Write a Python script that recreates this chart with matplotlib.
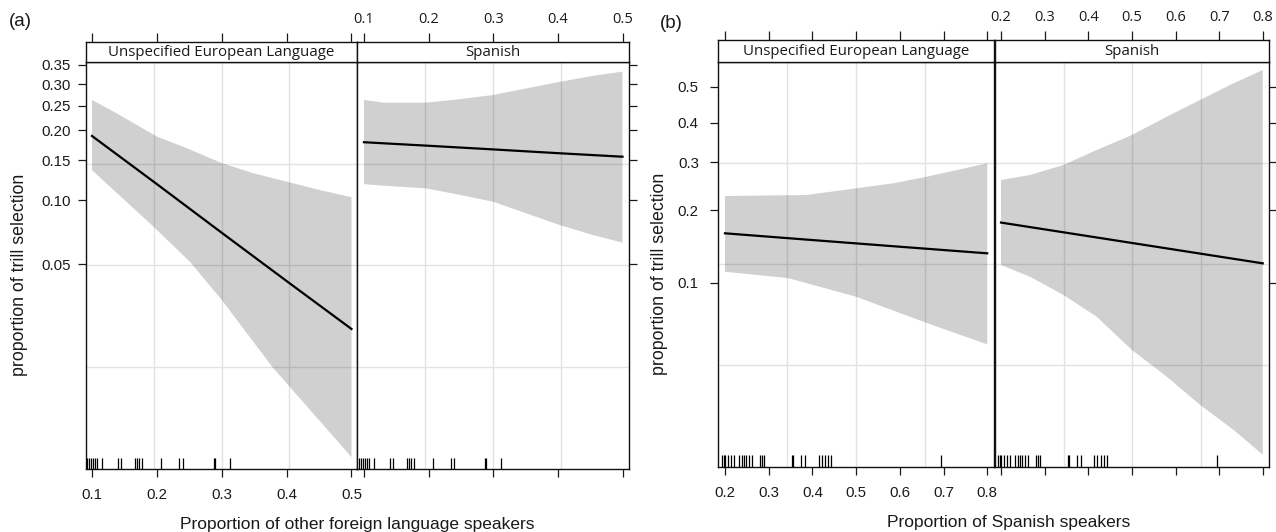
import numpy as np
import matplotlib
matplotlib.use("Agg")
import matplotlib.pyplot as plt
from matplotlib.ticker import FixedLocator, FixedFormatter, NullLocator

plt.rcParams["font.family"] = ["Liberation Sans", "DejaVu Sans"]

# ---------------- data ----------------
panel_names = ["Unspecified European Language", "Spanish"]

# (a) Proportion of other foreign language speakers
a_line_x = [0.1, 0.2, 0.3, 0.4, 0.5]
a_eu_fit = [0.190, 0.118, 0.0705, 0.0414, 0.0241]
a_es_fit = [0.179, 0.173, 0.167, 0.161, 0.1555]

a_eu_up_x = [0.1, 0.138, 0.174, 0.2, 0.246, 0.3, 0.348, 0.405, 0.451, 0.5]
a_eu_up = [0.263, 0.234, 0.207, 0.189, 0.169, 0.146, 0.132, 0.120, 0.111, 0.103]
a_eu_lo_x = [0.1, 0.195, 0.251, 0.3, 0.378, 0.5]
a_eu_lo = [0.136, 0.0752, 0.0513, 0.0335, 0.0156, 0.00551]

a_es_band_x = [0.1, 0.130, 0.195, 0.238, 0.3, 0.351, 0.403, 0.454, 0.5]
a_es_up = [0.263, 0.257, 0.257, 0.263, 0.2745, 0.290, 0.306, 0.321, 0.332]
a_es_lo = [0.118, 0.116, 0.113, 0.107, 0.0982, 0.0869, 0.0766, 0.0688, 0.0633]

a_rug = [0.092, 0.095, 0.099, 0.102, 0.104, 0.107, 0.115, 0.140, 0.145,
         0.167, 0.170, 0.173, 0.177, 0.207, 0.234, 0.240, 0.288, 0.289, 0.312]

a_xticks = [0.1, 0.2, 0.3, 0.4, 0.5]
a_xticklabels = ["0.1", "0.2", "0.3", "0.4", "0.5"]
a_yticks = [0.05, 0.10, 0.15, 0.20, 0.25, 0.30, 0.35]
a_yticklabels = ["0.05", "0.10", "0.15", "0.20", "0.25", "0.30", "0.35"]

# (b) Proportion of Spanish speakers
b_line_x = [0.2, 0.4, 0.6, 0.8]
b_eu_fit = [0.162, 0.152, 0.1426, 0.1338]
b_es_fit = [0.179, 0.1577, 0.1385, 0.1213]

b_eu_up_x = [0.2, 0.387, 0.5, 0.585, 0.661, 0.730, 0.8]
b_eu_up = [0.227, 0.229, 0.2425, 0.253, 0.267, 0.282, 0.2976]
b_eu_lo_x = [0.2, 0.344, 0.5, 0.654, 0.8]
b_eu_lo = [0.1116, 0.1048, 0.0867, 0.0669, 0.0527]

b_es_band_x = [0.2, 0.2665, 0.343, 0.419, 0.5, 0.580, 0.656, 0.733, 0.8]
b_es_up = [0.260, 0.271, 0.2936, 0.3296, 0.3678, 0.4167, 0.4628, 0.5095, 0.5467]
b_es_lo = [0.1193, 0.1062, 0.0883, 0.0706, 0.0497, 0.0373, 0.0275, 0.0209, 0.0159]

b_rug = [0.194, 0.197, 0.200, 0.207, 0.214, 0.221, 0.233, 0.238, 0.243, 0.249,
         0.255, 0.262, 0.280, 0.284, 0.289, 0.353, 0.355, 0.375, 0.383, 0.414,
         0.421, 0.429, 0.436, 0.442, 0.695]

b_xticks = [0.2, 0.3, 0.4, 0.5, 0.6, 0.7, 0.8]
b_xticklabels = ["0.2", "0.3", "0.4", "0.5", "0.6", "0.7", "0.8"]
b_yticks = [0.1, 0.2, 0.3, 0.4, 0.5]
b_yticklabels = ["0.1", "0.2", "0.3", "0.4", "0.5"]

# ---------------- figure ----------------
W, H = 1276, 532
fig = plt.figure(figsize=(W / 100, H / 100), dpi=100)
TXT = "#1a1a1a"
SANS = "Liberation Sans"
STRIP = "Open Sans"


def add_ax(x0, x1, y0, y1):
    return fig.add_axes([x0 / W, 1 - y1 / H, (x1 - x0) / W, (y1 - y0) / H])


def draw_panel(ax, xlim, ylim, xticks, xtl, yticks, ytl, fx, fit, ux, up, lx, lo,
               rug, left):
    ax.set_yscale("logit")
    ax.set_xlim(*xlim)
    ax.set_ylim(*ylim)
    for f in (0.25, 0.5, 0.75):
        ax.plot([f, f], [0, 1], transform=ax.transAxes, color="#e2e2e2", lw=1.0, zorder=1)
        ax.plot([0, 1], [f, f], transform=ax.transAxes, color="#e2e2e2", lw=1.0, zorder=1)
    px = np.concatenate([ux, lx[::-1]])
    py = np.concatenate([up, lo[::-1]])
    ax.fill(px, py, color="black", alpha=0.185, lw=0, zorder=2)
    ax.plot(fx, fit, color="black", lw=1.6, zorder=3)
    ax.vlines(rug, 0, 0.028, transform=ax.get_xaxis_transform(), color="black",
              lw=0.9, zorder=4)
    ax.xaxis.set_major_locator(FixedLocator(xticks))
    ax.xaxis.set_major_formatter(FixedFormatter(xtl))
    ax.xaxis.set_minor_locator(NullLocator())
    ax.yaxis.set_major_locator(FixedLocator(yticks))
    ax.yaxis.set_major_formatter(FixedFormatter(ytl))
    ax.yaxis.set_minor_locator(NullLocator())
    ax.tick_params(axis="both", direction="out", length=6, width=0.9, colors=TXT,
                   labelsize=10.8, labelfontfamily=SANS)
    ax.tick_params(axis="x", top=False, bottom=True, labelbottom=left, pad=8)
    ax.tick_params(axis="y", left=left, labelleft=left, right=not left,
                   labelright=False, pad=5)
    for s in ax.spines.values():
        s.set_linewidth(1.0)
        s.set_color("#111111")


def draw_strip(ax, xlim, xticks, xtl, name, labels):
    ax.set_xlim(*xlim)
    ax.set_yticks([])
    ax.xaxis.tick_top()
    ax.xaxis.set_major_locator(FixedLocator(xticks))
    ax.xaxis.set_major_formatter(FixedFormatter(xtl))
    ax.xaxis.set_minor_locator(NullLocator())
    ax.tick_params(axis="x", top=True, bottom=False, labeltop=labels,
                   labelbottom=False, direction="out", length=6.5, width=0.9,
                   colors=TXT, labelsize=10.5, pad=4, labelfontfamily=STRIP)
    ax.text(0.5, 0.47, name, transform=ax.transAxes, ha="center", va="center",
            fontsize=10.8, fontfamily=STRIP, color=TXT)
    for s in ax.spines.values():
        s.set_linewidth(1.0)
        s.set_color("#111111")


# ---- (a) ----
a_xlim = (0.0908, 0.5085)
a_ylim = (0.0048, 0.358)
axL = add_ax(86, 357, 61.7, 469)
axR = add_ax(357, 629.3, 61.7, 469)
draw_panel(axL, a_xlim, a_ylim, a_xticks, a_xticklabels, a_yticks, a_yticklabels,
           a_line_x, a_eu_fit, np.array(a_eu_up_x), np.array(a_eu_up),
           np.array(a_eu_lo_x), np.array(a_eu_lo), a_rug, True)
draw_panel(axR, (0.0892, 0.5105), a_ylim, a_xticks, a_xticklabels, a_yticks,
           a_yticklabels, a_line_x, a_es_fit, np.array(a_es_band_x),
           np.array(a_es_up), np.array(a_es_band_x), np.array(a_es_lo), a_rug, False)
sL = add_ax(86, 357, 41.7, 61.7)
sR = add_ax(357, 629.3, 41.7, 61.7)
draw_strip(sL, a_xlim, a_xticks, a_xticklabels, panel_names[0], False)
draw_strip(sR, (0.0892, 0.5105), a_xticks, a_xticklabels, panel_names[1], True)

fig.text(9 / W, 1 - 22 / H, "(a)", fontsize=13.5, fontfamily=SANS, color=TXT,
         ha="left", va="center")
fig.text(20 / W, 1 - 275 / H, "proportion of trill selection", rotation=90,
         fontsize=12.8, fontfamily=SANS, color=TXT, ha="center", va="center")
fig.text(357.5 / W, 1 - 524 / H, "Proportion of other foreign language speakers",
         fontsize=12.5, fontfamily=SANS, color=TXT, ha="center", va="center")

# ---- (b) ----
b_xlim = (0.1847, 0.8162)
b_ylim = (0.01393, 0.5696)
bxL = add_ax(718.3, 994.3, 61.7, 466.7)
bxR = add_ax(995, 1269.3, 61.7, 466.7)
draw_panel(bxL, b_xlim, b_ylim, b_xticks, b_xticklabels, b_yticks, b_yticklabels,
           b_line_x, b_eu_fit, np.array(b_eu_up_x), np.array(b_eu_up),
           np.array(b_eu_lo_x), np.array(b_eu_lo), b_rug, True)
draw_panel(bxR, (0.1862, 0.815), b_ylim, b_xticks, b_xticklabels, b_yticks,
           b_yticklabels, b_line_x, b_es_fit, np.array(b_es_band_x),
           np.array(b_es_up), np.array(b_es_band_x), np.array(b_es_lo), b_rug, False)
bsL = add_ax(718.3, 994.3, 40, 61.7)
bsR = add_ax(995, 1269.3, 40, 61.7)
draw_strip(bsL, b_xlim, b_xticks, b_xticklabels, panel_names[0], False)
draw_strip(bsR, (0.1862, 0.815), b_xticks, b_xticklabels, panel_names[1], True)
bxL.tick_params(axis="y", pad=8)

fig.text(660 / W, 1 - 24 / H, "(b)", fontsize=13.5, fontfamily=SANS, color=TXT,
         ha="left", va="center")
fig.text(660 / W, 1 - 274 / H, "proportion of trill selection", rotation=90,
         fontsize=12.8, fontfamily=SANS, color=TXT, ha="center", va="center")
fig.text(1009 / W, 1 - 522 / H, "Proportion of Spanish speakers",
         fontsize=12.5, fontfamily=SANS, color=TXT, ha="center", va="center")

fig.savefig("out.png", dpi=100, facecolor="white")
